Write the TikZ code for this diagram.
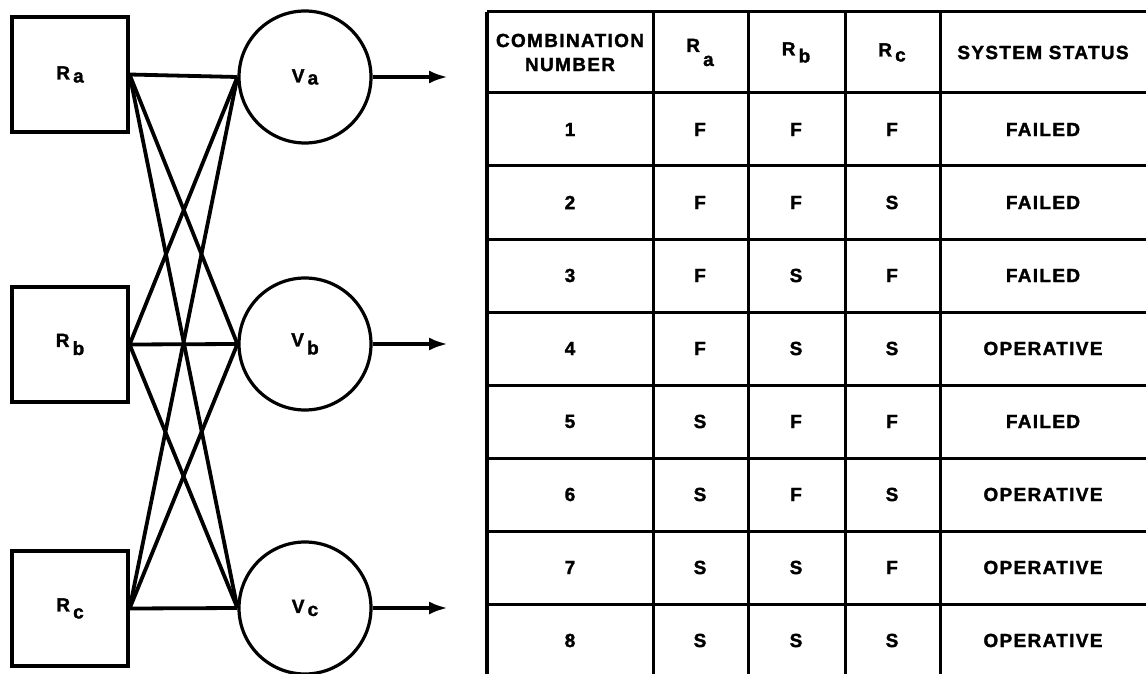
\documentclass[tikz,border=0pt]{standalone}
\usepackage{fontspec}
\newfontfamily\lblfont{Liberation Sans}[LetterSpace=7, BoldFeatures={FakeBold=1.6}]
\usetikzlibrary{arrows, arrows.meta}
\tikzstyle{res}=[draw, line width=3.2pt, minimum width=116pt, minimum height=115pt, inner sep=0pt]
\tikzstyle{vot}=[draw, circle, line width=3.2pt, minimum size=132pt, inner sep=0pt]
\tikzstyle{link}=[line width=3.8pt]
\tikzstyle{tline}=[line width=3pt]
\newcommand{\sub}[2]{\,\raisebox{#1}{#2}}

\begin{document}
\begin{tikzpicture}[x=1pt,y=-1pt,node distance=2cm,>={Latex[length=19pt,width=13pt]},
    font=\lblfont\bfseries\fontsize{19}{24}\selectfont]
      \useasboundingbox (0,0) rectangle (1146,674);
      % receivers and voters
      \node [res] (Ra) at (70,74.5) {R\sub{-3pt}{a}};
      \node [res] (Rb) [below of=Ra, node distance=270pt] {R\sub{-8pt}{b}};
      \node [res] (Rc) [below of=Rb, node distance=264pt] {R\sub{-7pt}{c}};
      \node [vot] (Va) at (305,77) {V\sub{-2pt}{a}};
      \node [vot] (Vb) [below of=Va, node distance=267pt] {V\sub{-8pt}{b}};
      \node [vot] (Vc) [below of=Vb, node distance=264pt] {V\sub{-3pt}{c}};
      \foreach \s in {Ra,Rb,Rc}
        \foreach \t in {Va,Vb,Vc}
          \draw[link] (\s.east) -- (\t.west);
      \node [coordinate] (oa) [right of=Va, node distance=143pt] {};
      \node [coordinate] (ob) [right of=Vb, node distance=143pt] {};
      \node [coordinate] (oc) [right of=Vc, node distance=143pt] {};
      \path[->,link] (Va) edge (oa);
      \path[->,link] (Vb) edge (ob);
      \path[->,link] (Vc) edge (oc);

      % table
      \draw[line width=3.8pt] (487,674) -- (487,12);
      \draw[tline] (487,12) -- (1146,12);
      \foreach \x in {653,748,845,940}
        \draw[tline] (\x,12) -- (\x,674);
      \foreach \k in {0,...,7}
        \draw[tline] (487,{93+73*\k}) -- (1146,{93+73*\k});
      \node [align=center] (h0) at (570,52.5) {COMBINATION\\NUMBER};
      \node (h1) at (700,52.5) {R\sub{-14pt}{a}};
      \node (h2) at (796,52.5) {R\sub{-7pt}{b}};
      \node (h3) at (892,52.5) {R\sub{-5pt}{c}};
      \node (h4) at (1043,52.5) {SYSTEM STATUS};
      \foreach \n/\a/\b/\c/\st in {1/F/F/F/FAILED, 2/F/F/S/FAILED,
          3/F/S/F/FAILED, 4/F/S/S/OPERATIVE, 5/S/F/F/FAILED,
          6/S/F/S/OPERATIVE, 7/S/S/F/OPERATIVE, 8/S/S/S/OPERATIVE} {
        \node (n\n) at (570,{129.5+73*(\n-1)}) {\n};
        \node (a\n) at (700,{129.5+73*(\n-1)}) {\a};
        \node (b\n) at (796,{129.5+73*(\n-1)}) {\b};
        \node (c\n) at (892,{129.5+73*(\n-1)}) {\c};
        \node (s\n) at (1043,{129.5+73*(\n-1)}) {\st};
      }
  \end{tikzpicture}
\end{document}
